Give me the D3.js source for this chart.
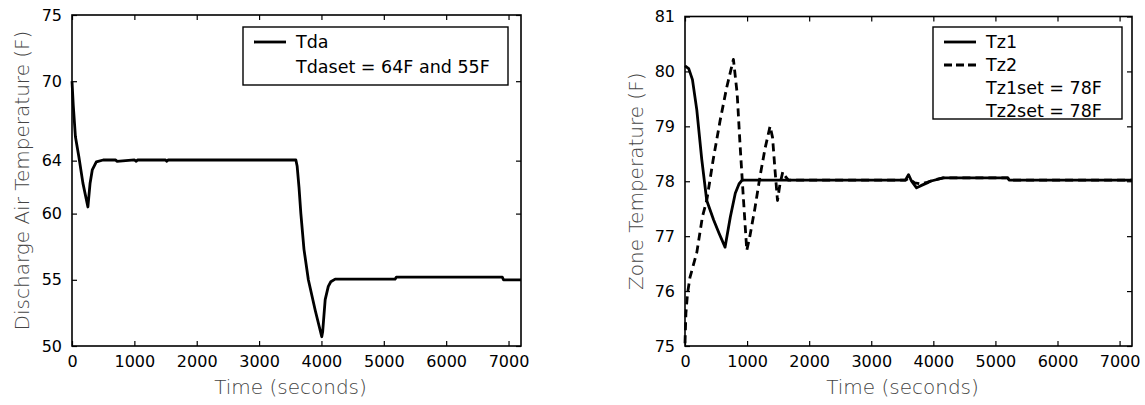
<!DOCTYPE html>
<html>
<head>
<meta charset="utf-8">
<script src="https://cdn.jsdelivr.net/npm/d3@7"></script>
<style>
  body { margin: 0; background: #fff; }
  svg { display: block; }
  text { font-family: "DejaVu Sans", sans-serif; }
</style>
</head>
<body>
<div class="chart"></div>
<script>
// left panel: discharge air temperature
var tdaTime = [0, 20, 55, 110, 175, 255, 290, 325, 390, 500, 700, 720, 1000, 1030, 1050,
  1500, 1520, 1540, 2500, 3590, 3610, 3640, 3670, 3720, 3790, 3900, 4005, 4020, 4060, 4110,
  4150, 4220, 5180, 5200, 6900, 6920, 7200];
var tdaValue = [70, 68.2, 65.8, 64.3, 62.3, 60.5, 62.3, 63.3, 63.9, 64.05, 64.05, 63.95, 64.05, 63.95, 64.05,
  64.05, 63.95, 64.05, 64.05, 64.05, 63.6, 62.0, 60.0, 57.3, 55.0, 52.7, 50.7, 51.1, 53.5, 54.5,
  54.85, 55.05, 55.05, 55.2, 55.2, 55.0, 55.0];

// right panel: zone temperatures
var tz1Time = [0, 60, 120, 190, 270, 350, 460, 550, 645, 730, 810, 870, 920, 960,
  3550, 3600, 3650, 3730, 3800, 3900, 3950, 4160, 5200, 5220, 7200];
var tz1Value = [80.1, 80.05, 79.85, 79.3, 78.4, 77.65, 77.3, 77.05, 76.8, 77.35, 77.78, 77.95, 78.02, 78.02,
  78.02, 78.12, 78.0, 77.88, 77.92, 77.97, 78.0, 78.06, 78.06, 78.02, 78.02];

var tz2Time = [0, 15, 40, 80, 190, 280, 350, 455, 565, 670, 780, 840, 885, 940, 995, 1045,
  1125, 1210, 1290, 1370, 1410, 1450, 1490, 1530, 1575, 1610, 1665,
  3550, 3600, 3700, 3800, 3900, 4000, 4160, 5200, 5220, 7200];
var tz2Value = [75.05, 75.6, 75.95, 76.25, 76.7, 77.35, 77.65, 78.4, 79.1, 79.7, 80.22, 79.6, 78.7, 77.7, 76.74, 77.0,
  77.5, 78.1, 78.6, 79.0, 78.8, 78.2, 77.65, 77.95, 78.17, 78.1, 78.02,
  78.02, 78.05, 77.97, 77.95, 77.98, 78.02, 78.06, 78.06, 78.02, 78.02];

var xTicks = [0, 1000, 2000, 3000, 4000, 5000, 6000, 7000];
var tdaTicks = [50, 55, 60, 64, 70, 75];
var zoneTicks = [75, 76, 77, 78, 79, 80, 81];

var svg = d3.select('.chart')
  .append('svg')
  .attr('width', 1145)
  .attr('height', 405);

function zip(ts, vs) {
  return ts.map((t, i) => ({ t: t, v: vs[i] }));
}

function panel(opt) {
  var x = d3.scaleLinear().domain(opt.xDomain).range([opt.left, opt.right]);
  var y = d3.scaleLinear().domain(opt.yDomain).range([opt.bottom, opt.top]);
  var g = svg.append('g');

  var tick = a => a.tickSizeInner(-5).tickSizeOuter(0).tickPadding(10);

  g.append('g')
    .attr('transform', `translate(0,${opt.bottom})`)
    .call(tick(d3.axisBottom(x).tickValues(xTicks).tickFormat(d3.format('d'))));
  g.append('g')
    .attr('transform', `translate(0,${opt.top})`)
    .call(tick(d3.axisTop(x).tickValues(xTicks).tickFormat('')));
  g.append('g')
    .attr('transform', `translate(${opt.left},0)`)
    .call(tick(d3.axisLeft(y).tickValues(opt.yTicks).tickFormat(d3.format('d'))));
  g.append('g')
    .attr('transform', `translate(${opt.right},0)`)
    .call(tick(d3.axisRight(y).tickValues(opt.yTicks).tickFormat('')));

  g.selectAll('.domain').remove();
  g.selectAll('.tick line').attr('stroke', '#000').attr('stroke-width', 1.2);
  g.selectAll('.tick text')
    .attr('font-family', '"DejaVu Sans", sans-serif')
    .attr('font-size', 16)
    .attr('fill', '#000');

  g.append('rect')
    .attr('x', opt.left).attr('y', opt.top)
    .attr('width', opt.right - opt.left).attr('height', opt.bottom - opt.top)
    .attr('fill', 'none').attr('stroke', '#000').attr('stroke-width', 1.6);

  var line = d3.line().x(d => x(d.t)).y(d => y(d.v));

  opt.series.forEach(s => {
    g.append('path')
      .attr('d', line(s.data))
      .attr('fill', 'none')
      .attr('stroke', '#000')
      .attr('stroke-width', 2.8)
      .attr('stroke-linejoin', 'round')
      .attr('stroke-dasharray', s.dash || null);
  });

  // axis titles
  g.append('text')
    .attr('x', (opt.left + opt.right) / 2 - 6)
    .attr('y', 394)
    .attr('text-anchor', 'middle')
    .attr('font-size', 20)
    .attr('font-weight', 200)
    .attr('fill', '#444')
    .text('Time (seconds)');
  g.append('text')
    .attr('transform', `translate(${opt.yLabelX},${(opt.top + opt.bottom) / 2}) rotate(-90)`)
    .attr('text-anchor', 'middle')
    .attr('font-size', 20)
    .attr('font-weight', 200)
    .attr('fill', '#444')
    .text(opt.yLabel);

  // legend
  var lg = opt.legend;
  g.append('rect')
    .attr('x', lg.x).attr('y', lg.y)
    .attr('width', lg.w).attr('height', lg.h)
    .attr('fill', '#fff').attr('stroke', '#000').attr('stroke-width', 1.4);
  lg.items.forEach((it, i) => {
    var by = lg.y + 21 + i * lg.step;
    if (it.line) {
      g.append('line')
        .attr('x1', lg.x + 11).attr('x2', lg.x + 43)
        .attr('y1', by - 6).attr('y2', by - 6)
        .attr('stroke', '#000').attr('stroke-width', 2.8)
        .attr('stroke-dasharray', it.dash || null);
    }
    g.append('text')
      .attr('x', lg.x + 53)
      .attr('y', by)
      .attr('font-size', 17.5)
      .attr('fill', '#000')
      .text(it.label);
  });
}

panel({
  left: 72, right: 521, top: 15, bottom: 346,
  xDomain: [0, 7200], yDomain: [50, 75], yTicks: tdaTicks,
  yLabel: 'Discharge Air Temperature (F)', yLabelX: 29,
  series: [{ data: zip(tdaTime, tdaValue) }],
  legend: {
    x: 243, y: 27, w: 265, h: 58, step: 25,
    items: [{ label: 'Tda', line: true }, { label: 'Tdaset = 64F and 55F' }]
  }
});

panel({
  left: 685, right: 1132, top: 16.5, bottom: 346,
  xDomain: [0, 7200], yDomain: [75, 81], yTicks: zoneTicks,
  yLabel: 'Zone Temperature (F)', yLabelX: 643,
  series: [
    { data: zip(tz1Time, tz1Value) },
    { data: zip(tz2Time, tz2Value), dash: '8,5' }
  ],
  legend: {
    x: 933, y: 27, w: 189, h: 92, step: 23,
    items: [
      { label: 'Tz1', line: true },
      { label: 'Tz2', line: true, dash: '8,4' },
      { label: 'Tz1set = 78F' },
      { label: 'Tz2set = 78F' }
    ]
  }
});
</script>
</body>
</html>
